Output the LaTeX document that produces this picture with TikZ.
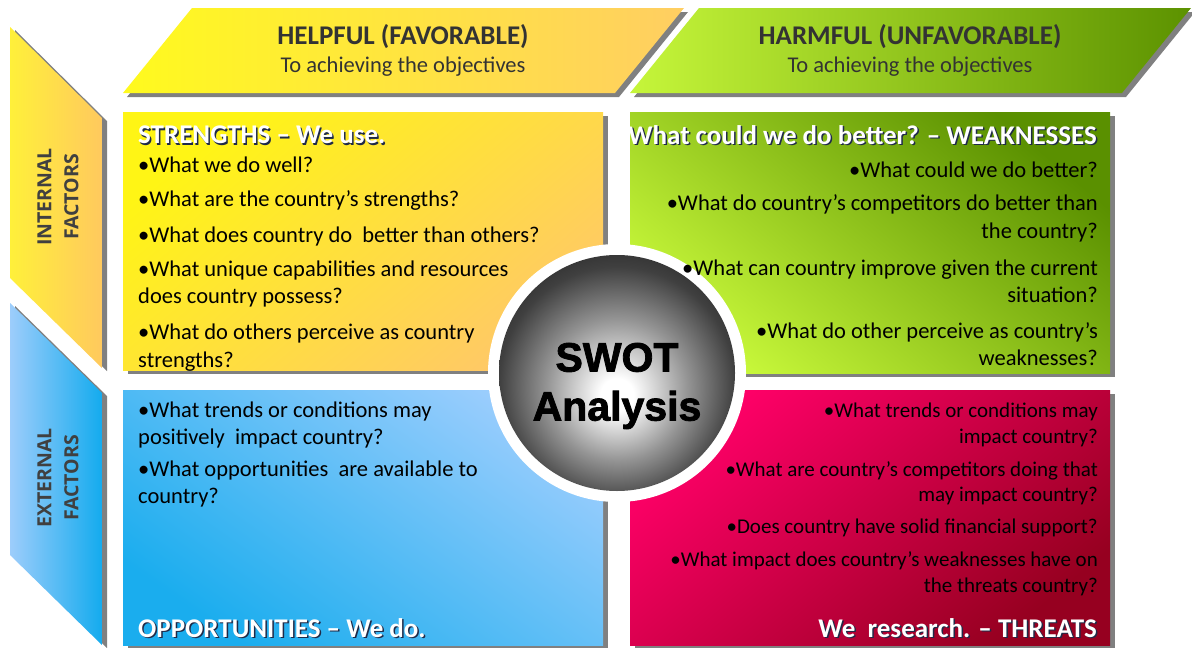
\documentclass[tikz,border=0pt]{standalone}
\usepackage{fontspec}
\setmainfont{Carlito}
\newfontfamily\swotfont[BoldFeatures={FakeBold=2}]{Liberation Sans}
\newfontfamily\sidefont{Open Sans}
\definecolor{bY1}{HTML}{FFFA1E}
\definecolor{bY2}{HTML}{FFCE62}
\definecolor{bG1}{HTML}{C6F63A}
\definecolor{bG2}{HTML}{5C9200}
\definecolor{sY1}{HTML}{FFF515}
\definecolor{sY2}{HTML}{FFC966}
\definecolor{wG1}{HTML}{5A9000}
\definecolor{wG2}{HTML}{C8F83A}
\definecolor{oB1}{HTML}{9ACDFD}
\definecolor{oB2}{HTML}{1AADEE}
\definecolor{tR1}{HTML}{FF0068}
\definecolor{tR2}{HTML}{960020}
\definecolor{iY1}{HTML}{FFF03A}
\definecolor{iY2}{HTML}{FFC95E}
\definecolor{eB1}{HTML}{9DCDFB}
\definecolor{eB2}{HTML}{14ABEE}
\definecolor{shad}{HTML}{808080}
\definecolor{hdsh}{HTML}{1F2A48}
\definecolor{txtgray}{HTML}{333333}
\definecolor{sidegray}{HTML}{404040}
\pgfdeclareradialshading{ball}{\pgfpoint{0bp}{-5bp}}{color(0bp)=(white); color(3.5bp)=(white); color(15bp)=(black!42); color(25bp)=(black!75); color(31bp)=(black!84); color(50bp)=(black!84)}
\begin{document}
\begin{tikzpicture}[x=1pt,y=-1pt,
  shadow/.style={fill=shad},
  body/.style={font=\fontsize{22.5}{27.5}\selectfont, inner sep=0pt, text=black},
  bodyL/.style={body, anchor=west, align=left},
  bodyR/.style={body, anchor=east, align=right},
  tbody/.style={body, font=\fontsize{21}{25.5}\selectfont, anchor=east, align=right},
  hdr/.style={font=\bfseries\fontsize{27}{30}\selectfont, inner sep=0pt, text=white},
  hdrsh/.style={hdr, text=hdsh},
  bantitle/.style={font=\bfseries\fontsize{27}{30}\selectfont, text=txtgray, inner sep=0pt},
  bansub/.style={font=\fontsize{22.5}{26}\selectfont, text=txtgray, inner sep=0pt},
  side/.style={font=\sidefont\bfseries\fontsize{19.5}{27}\selectfont, text=sidegray, align=center, rotate=90, inner sep=0pt},
  swot/.style={font=\swotfont\bfseries\fontsize{41}{49}\selectfont, text=black, align=center, inner sep=0pt},
]
\useasboundingbox (0,0) rectangle (1192,648);
\fill[white] (0,0) rectangle (1192,648);

% top banners
\fill[shadow] (196,12) -- (688,12) -- (619,97) -- (127,97) -- cycle;
\shade[left color=bY1, right color=bY2] (192,8) -- (684,8) -- (615,93) -- (123,93) -- cycle;
\fill[shadow] (703,12) -- (1195,12) -- (1126,97) -- (634,97) -- cycle;
\shade[left color=bG1, right color=bG2] (699,8) -- (1191,8) -- (1122,93) -- (630,93) -- cycle;

% side banners
\fill[shadow] (15,30) -- (107,121) -- (107,371) -- (15,281) -- cycle;
\shade[left color=iY1, right color=iY2] (10,27) -- (102,118) -- (102,368) -- (10,278) -- cycle;
\fill[shadow] (15,306) -- (107,396) -- (107,648) -- (15,558) -- cycle;
\shade[left color=eB1, right color=eB2] (10,303) -- (102,393) -- (102,645) -- (10,555) -- cycle;

% quadrant boxes
\fill[shadow] (128,116) rectangle (608,374);
\shade[top color=sY1, bottom color=sY2, shading angle=40] (123,112) rectangle (603,370);
\fill[shadow] (635,116) rectangle (1115,377);
\shade[top color=wG1, bottom color=wG2, shading angle=-40] (630,112) rectangle (1110,373);
\fill[shadow] (128,394) rectangle (608,649);
\shade[top color=oB1, bottom color=oB2, shading angle=-35] (123,390) rectangle (603,645);
\fill[shadow] (635,394) rectangle (1115,649);
\shade[top color=tR1, bottom color=tR2, shading angle=40] (630,390) rectangle (1110,645);

% centre circle
\fill[white] (617,373) circle (129);
\shade[shading=ball] (617,373) circle (118);
\node[swot] (swot) at (617,386) {SWOT\\Analysis};

% banner texts
\node[bantitle] (helpT) at (403,37) {HELPFUL (FAVORABLE)};
\node[bansub] (helpS) at (403,67) {To achieving the objectives};
\node[bantitle] (harmT) at (910,37) {HARMFUL (UNFAVORABLE)};
\node[bansub] (harmS) at (910,67) {To achieving the objectives};

% side texts
\node[side] (intL) at (58,197) {INTERNAL\\FACTORS};
\node[side] (extL) at (58,478) {EXTERNAL\\FACTORS};

% strengths
\node[hdrsh, anchor=west] (sHs) at (139.5,136.5) {STRENGTHS – We use.};
\node[hdr, anchor=west] (sH) at (138,135) {STRENGTHS – We use.};
\node[bodyL] (s1) at (138,165) {•What we do well?};
\node[bodyL] (s2) at (138,200) {•What are the country's strengths?};
\node[bodyL] (s3) at (138,236) {•What does country do\ \ better than others?};
\node[bodyL] (s4) at (138,284) {•What unique capabilities and resources\\does country possess?};
\node[bodyL] (s5) at (138,347.5) {•What do others perceive as country\\strengths?};

% weaknesses
\node[hdrsh, anchor=east] (wHs) at (1098.5,136.5) {What could we do better? – WEAKNESSES};
\node[hdr, anchor=east] (wH) at (1097,135) {What could we do better? – WEAKNESSES};
\node[bodyR] (w1) at (1098,170) {•What could we do better?};
\node[bodyR] (w2) at (1098,218.5) {•What do country’s competitors do better than\\the country?};
\node[bodyR] (w3) at (1098,281.5) {•What can country improve given the current\\situation?};
\node[bodyR] (w4) at (1098,344) {•What do other perceive as country’s\\weaknesses?};

% opportunities
\node[bodyL] (o1) at (138,425) {•What trends or conditions may\\positively\ \ impact country?};
\node[bodyL] (o2) at (138,484) {•What opportunities\ \ are available to\\country?};
\node[hdrsh, anchor=west] (oHs) at (139.5,629.5) {OPPORTUNITIES – We do.};
\node[hdr, anchor=west] (oH) at (138,628) {OPPORTUNITIES – We do.};

% threats
\node[tbody] (t1) at (1098,425) {•What trends or conditions may\\impact country?};
\node[tbody] (t2) at (1098,483.5) {•What are country’s competitors doing that\\may impact country?};
\node[tbody] (t3) at (1098,528) {•Does country have solid financial support?};
\node[tbody] (t4) at (1098,574) {•What impact does country’s weaknesses have on\\the threats country?};
\node[hdrsh, anchor=east] (tHs) at (1098.5,629.5) {We\ \ research. – THREATS};
\node[hdr, anchor=east] (tH) at (1097,628) {We\ \ research. – THREATS};
\end{tikzpicture}
\end{document}
